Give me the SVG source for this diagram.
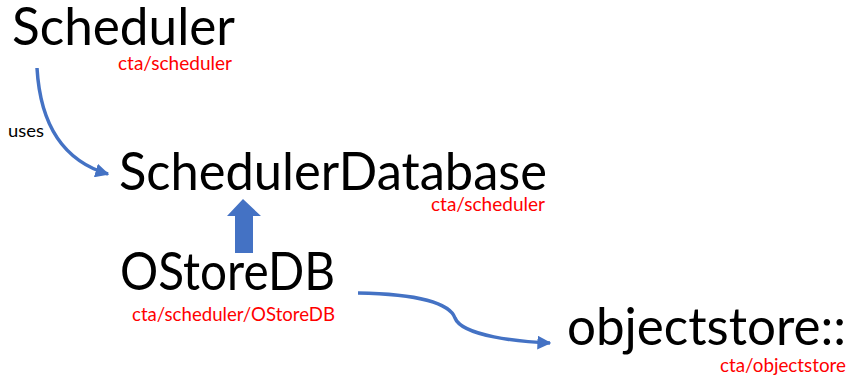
<svg xmlns="http://www.w3.org/2000/svg" width="849" height="377" viewBox="0 0 849 377">
<style>
.big{font-family:Lato,"Open Sans","Liberation Sans",sans-serif;font-size:52px;fill:#000}
.pkg{font-family:Lato,"Open Sans","Liberation Sans",sans-serif;font-size:19px;fill:#ff0000}
.lbl{font-family:Lato,"Open Sans","Liberation Sans",sans-serif;font-size:18px;fill:#000}
.conn{fill:none;stroke:#4472c4;stroke-width:3.5}
</style>
<defs>
<marker id="ah" viewBox="0 0 10 10" refX="9" refY="5" markerWidth="4" markerHeight="4" orient="auto" markerUnits="strokeWidth">
<path d="M0,0 L10,5 L0,10 Z" fill="#4472c4"/>
</marker>
</defs>
<rect width="849" height="377" fill="#fff"/>
<g id="scheduler">
<text class="big" x="12" y="45" textLength="223" lengthAdjust="spacingAndGlyphs">Scheduler</text>
<text class="pkg" x="118" y="70" textLength="114" lengthAdjust="spacingAndGlyphs">cta/scheduler</text>
</g>
<g id="schedulerdatabase">
<text class="big" x="119" y="190" textLength="428" lengthAdjust="spacingAndGlyphs">SchedulerDatabase</text>
<text class="pkg" x="431" y="211" textLength="114" lengthAdjust="spacingAndGlyphs">cta/scheduler</text>
</g>
<g id="ostoredb">
<text class="big" x="120" y="290" textLength="215" lengthAdjust="spacingAndGlyphs">OStoreDB</text>
<text class="pkg" x="132" y="321" textLength="203" lengthAdjust="spacingAndGlyphs">cta/scheduler/OStoreDB</text>
</g>
<g id="objectstore">
<text class="big" x="567" y="345" textLength="279" lengthAdjust="spacingAndGlyphs">objectstore::</text>
<text class="pkg" x="720" y="372" textLength="126" lengthAdjust="spacingAndGlyphs">cta/objectstore</text>
</g>
<g id="connectors">
<path class="conn" d="M37,68 C40,120 60,160 108,174" marker-end="url(#ah)"/>
<text class="lbl" x="8" y="137" textLength="36" lengthAdjust="spacingAndGlyphs">uses</text>
<polygon points="243,199 261,216 253,216 253,253 235,253 235,216 227,216" fill="#4472c4"/>
<path class="conn" d="M358,293 C420,294 450,304 455,318 C462,336 520,342 550,343" marker-end="url(#ah)"/>
</g>
</svg>
